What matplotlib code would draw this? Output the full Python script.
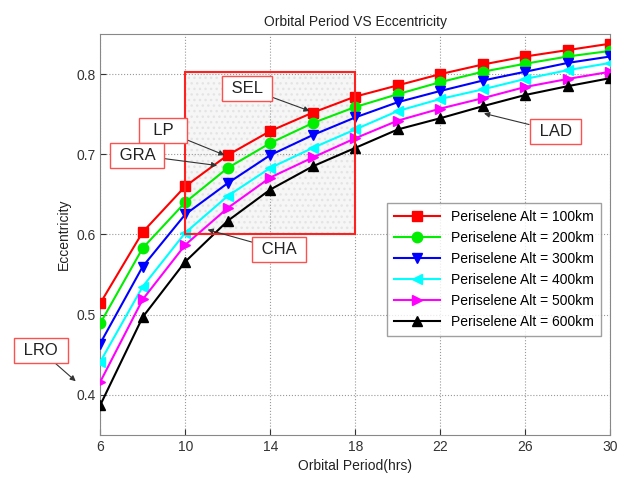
import matplotlib
matplotlib.use('Agg')
import matplotlib.pyplot as plt
from matplotlib.patches import Rectangle

plt.rcParams['font.family'] = ['Liberation Sans', 'DejaVu Sans']

period = [6, 8, 10, 12, 14, 16, 18, 20, 22, 24, 26, 28, 30]
ecc_100 = [0.514, 0.603, 0.660, 0.699, 0.729, 0.752, 0.772, 0.786, 0.800, 0.812, 0.822, 0.830, 0.838]
ecc_200 = [0.489, 0.583, 0.640, 0.683, 0.714, 0.739, 0.759, 0.775, 0.790, 0.803, 0.813, 0.822, 0.829]
ecc_300 = [0.464, 0.560, 0.625, 0.664, 0.699, 0.724, 0.746, 0.765, 0.779, 0.792, 0.803, 0.814, 0.822]
ecc_400 = [0.441, 0.535, 0.602, 0.648, 0.683, 0.708, 0.731, 0.754, 0.769, 0.781, 0.794, 0.805, 0.814]
ecc_500 = [0.416, 0.519, 0.587, 0.633, 0.671, 0.696, 0.720, 0.742, 0.757, 0.770, 0.784, 0.794, 0.803]
ecc_600 = [0.387, 0.497, 0.566, 0.617, 0.656, 0.685, 0.708, 0.731, 0.745, 0.760, 0.774, 0.785, 0.795]

series = [
    (ecc_100, 'Periselene Alt = 100km', '#ff0000', 's'),
    (ecc_200, 'Periselene Alt = 200km', '#00ee00', 'o'),
    (ecc_300, 'Periselene Alt = 300km', '#0000ff', 'v'),
    (ecc_400, 'Periselene Alt = 400km', '#00ffff', '<'),
    (ecc_500, 'Periselene Alt = 500km', '#ff00ff', '>'),
    (ecc_600, 'Periselene Alt = 600km', '#000000', '^'),
]

# missions: (name, text position, arrow target)
missions = [
    ('SEL', (12.92, 0.7825), (15.85, 0.754)),
    ('LP', (8.96, 0.730), (11.85, 0.699)),
    ('GRA', (7.74, 0.699), (11.5, 0.686)),
    ('CHA', (14.42, 0.581), (11.05, 0.606)),
    ('LAD', (27.41, 0.729), (24.05, 0.751)),
    ('LRO', (3.22, 0.455), (4.85, 0.417)),
]

fig = plt.figure(figsize=(6.3, 4.79), dpi=100)
ax = fig.add_axes([0.159, 0.092, 0.810, 0.837])

# highlighted region
ax.add_patch(Rectangle((10, 0.600), 8, 0.202, facecolor='#f6f6f6', edgecolor='#e4e4e4',
                       hatch='...', lw=0, zorder=1))
ax.add_patch(Rectangle((10, 0.600), 8, 0.202, facecolor='none', edgecolor='#ff2020',
                       lw=1.5, zorder=4))

for vals, lab, col, mk in series:
    ax.plot(period, vals, color=col, marker=mk, markersize=7.5, linewidth=1.5,
            label=lab, zorder=3)

for name, txt, tgt in missions:
    pad = '  ' if len(name) == 2 else ' '
    ax.annotate(pad + name + pad, xy=tgt, xytext=txt, fontsize=12, color='#222222',
                ha='center', va='center', annotation_clip=False, zorder=6,
                bbox=dict(boxstyle='square,pad=0.3', fc='white', ec='#ff5050', lw=1),
                arrowprops=dict(arrowstyle='-|>', color='#333333', lw=0.8,
                                mutation_scale=8, shrinkA=0, shrinkB=0))

ax.set_xlim(6, 30)
ax.set_ylim(0.35, 0.85)
ax.set_xticks([6, 10, 14, 18, 22, 26, 30])
ax.set_yticks([0.4, 0.5, 0.6, 0.7, 0.8])
ax.tick_params(direction='in', labelsize=10, colors='#333333', length=4)
for s in ax.spines.values():
    s.set_color('#888888')
ax.grid(True, linestyle=':', color='#999999', linewidth=0.8)

ax.set_title('Orbital Period VS Eccentricity', fontsize=10, color='#222222')
ax.set_xlabel('Orbital Period(hrs)', fontsize=10, color='#222222')
ax.set_ylabel('Eccentricity', fontsize=10, color='#222222')

leg = ax.legend(loc='upper right', bbox_to_anchor=(0.995, 0.595), fontsize=10,
                fancybox=False, edgecolor='#888888', handlelength=3.3,
                labelspacing=0.5, borderpad=0.5)
leg.get_frame().set_linewidth(1)
leg.set_zorder(7)

fig.savefig('out.png', dpi=100)
